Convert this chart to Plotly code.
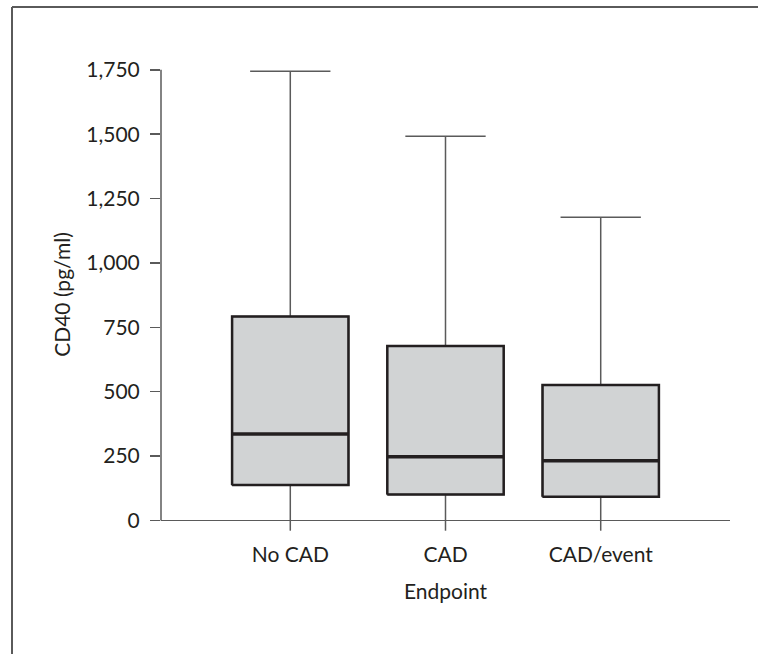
import plotly.graph_objects as go

# ---- data ----
categories = ["No CAD", "CAD", "CAD/event"]
q1 = [138, 101, 92]
medians = [336, 247, 232]
q3 = [792, 677, 526]
lower_whisker = [-40, -40, -40]
upper_whisker = [1745, 1492, 1178]
y_tick_vals = [0, 250, 500, 750, 1000, 1250, 1500, 1750]
y_tick_text = ["0", "250", "500", "750", "1,000", "1,250", "1,500", "1,750"]

# ---- style ----
FONT = "Lato"
TEXT = "#231f20"
AXIS = "#5a5a5a"
FILL = "#d1d3d4"
EDGE = "#231f20"
BOX_W = 0.75

pos = list(range(len(categories)))

fig = go.Figure()

# fill + upper whiskers (capped) from the box trace; the lower whisker is drawn uncapped below
fig.add_trace(go.Box(
    x=pos, q1=q1, median=medians, q3=q3,
    lowerfence=q1, upperfence=upper_whisker,
    width=BOX_W, whiskerwidth=0.69,
    fillcolor=FILL, line=dict(color=AXIS, width=1.5),
    boxpoints=False, showlegend=False, hoverinfo="skip",
))

# lower whiskers without caps
lx, ly = [], []
for i, a, lw in zip(pos, q1, lower_whisker):
    lx += [i, i, None]
    ly += [a, lw, None]
fig.add_trace(go.Scatter(x=lx, y=ly, mode="lines",
                         line=dict(color=AXIS, width=1.5),
                         showlegend=False, hoverinfo="skip"))

# dark box outlines
ox, oy = [], []
for i, a, b in zip(pos, q1, q3):
    ox += [i - BOX_W / 2, i + BOX_W / 2, i + BOX_W / 2, i - BOX_W / 2, i - BOX_W / 2, None]
    oy += [a, a, b, b, a, None]
fig.add_trace(go.Scatter(x=ox, y=oy, mode="lines",
                         line=dict(color=EDGE, width=2.5),
                         showlegend=False, hoverinfo="skip"))

# thick median lines
mx, my = [], []
for i, m in zip(pos, medians):
    mx += [i - BOX_W / 2, i + BOX_W / 2, None]
    my += [m, m, None]
fig.add_trace(go.Scatter(x=mx, y=my, mode="lines",
                         line=dict(color=EDGE, width=3.5),
                         showlegend=False, hoverinfo="skip"))

L, R, T, B = 161, 28, 57, 122
W, H = 758, 654
plot_w = W - L - R
plot_h = H - T - B

fig.update_layout(
    width=W, height=H,
    margin=dict(l=L, r=R, t=T, b=B, pad=0),
    paper_bgcolor="white", plot_bgcolor="white",
    font=dict(family=FONT, size=21, color=TEXT),
    xaxis=dict(
        range=[-0.833, 2.833], tickvals=pos, ticktext=categories,
        showgrid=False, zeroline=False, showline=False, ticks="",
        ticklabelstandoff=8,
        title=dict(text="Endpoint", standoff=19, font=dict(size=21)),
        automargin=False,
    ),
    yaxis=dict(
        range=[-45, 1800], tickvals=y_tick_vals, ticktext=y_tick_text,
        showgrid=False, showline=False,
        zeroline=True, zerolinecolor=AXIS, zerolinewidth=1.5,
        ticks="outside", ticklen=10, tickwidth=1.5, tickcolor=AXIS,
        ticklabelstandoff=6,
        title=dict(text="CD40 (pg/ml)", standoff=9, font=dict(size=21)),
        automargin=False,
    ),
)

# y axis line from 0 to the top tick
fig.add_shape(type="line", xref="paper", yref="y",
              x0=0, x1=0, y0=y_tick_vals[0], y1=y_tick_vals[-1],
              line=dict(color=AXIS, width=1.5), layer="below")

# outer frame: left and top edges
fx = (12 - L) / plot_w
fy = (H - B - 7) / plot_h
fig.add_shape(type="line", xref="paper", yref="paper",
              x0=fx, x1=fx, y0=fy, y1=-B / plot_h - 0.01,
              line=dict(color=AXIS, width=2))
fig.add_shape(type="line", xref="paper", yref="paper",
              x0=fx, x1=1 + R / plot_w + 0.01, y0=fy, y1=fy,
              line=dict(color=AXIS, width=2))

fig.write_html(
    "out.html",
    config={"displayModeBar": False, "staticPlot": True},
    post_script="document.body.style.margin='0';document.body.style.padding='0';",
)
